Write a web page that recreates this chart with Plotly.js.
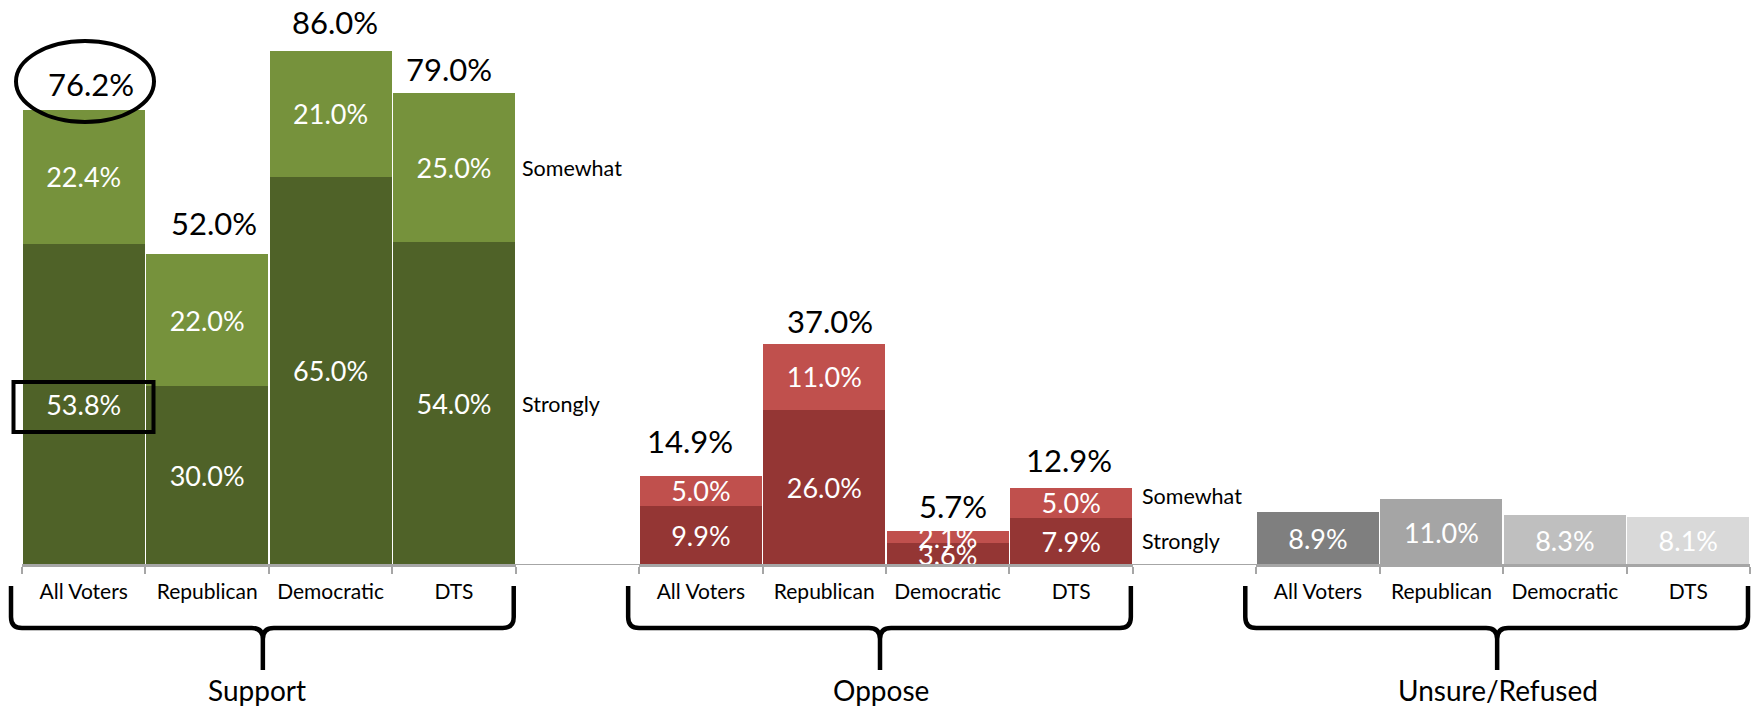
<!DOCTYPE html>
<html><head><meta charset="utf-8">
<script src="https://cdn.plot.ly/plotly-3.0.1.min.js"></script>
<style>html,body{margin:0;padding:0;background:#fff}</style>
</head><body><div id="chart" style="width:1758px;height:710px"></div>
<script>
// ---- data ----
const categories = ['All Voters', 'Republican', 'Democratic', 'DTS'];
const groups = ['Support', 'Oppose', 'Unsure/Refused'];
const segmentLabels = ['Strongly', 'Somewhat'];
const supportStrongly = [53.8, 30.0, 65.0, 54.0];
const supportSomewhat = [22.4, 22.0, 21.0, 25.0];
const supportTotal = [76.2, 52.0, 86.0, 79.0];
const opposeStrongly = [9.9, 26.0, 3.6, 7.9];
const opposeSomewhat = [5.0, 11.0, 2.1, 5.0];
const opposeTotal = [14.9, 37.0, 5.7, 12.9];
const unsure = [8.9, 11.0, 8.3, 8.1];

// ---- styling / label nudges (pixels) ----
const supportTotalNudge = [[7, -2], [7, 3], [4, 1], [-5, -4]];
const opposeTotalNudge = [[-11, 7], [6, -5], [5, -3], [-2, 0]];
const groupLabelShift = [-12, -5, -5];

const W = 1758, H = 710, MT = 20, MB = 145;
const plotH = H - MT - MB;
const base = H - MB;           // pixel y of baseline
const ppu = 5.975;             // px per percentage point
const yMax = plotH / ppu;
const slot = (1750 - 22) / 14;
const axStart = [22, 22 + 5 * slot, 22 + 10 * slot];
const axEnd = axStart.map(s => s + 4 * slot);

const fmt = v => v.toFixed(1) + '%';
const FONT = 'Lato, "Open Sans", sans-serif';
const insideFont = {color: '#ffffff', size: 27, family: FONT};

function barTrace(vals, axis, color, name) {
  return {
    type: 'bar', x: categories, y: vals, xaxis: axis, yaxis: 'y', name: name,
    marker: {color: color, line: {width: 0}},
    text: vals.map(fmt), textposition: 'inside', insidetextanchor: 'middle',
    constraintext: 'none', textfont: insideFont, cliponaxis: false,
    hoverinfo: 'skip', showlegend: false
  };
}

const data = [
  barTrace(supportStrongly, 'x', '#4F6228', 'Support Strongly'),
  barTrace(supportSomewhat, 'x', '#76923C', 'Support Somewhat'),
  barTrace(opposeStrongly, 'x2', '#943634', 'Oppose Strongly'),
  barTrace(opposeSomewhat, 'x2', '#C0504D', 'Oppose Somewhat'),
  barTrace(unsure, 'x3', ['#7F7F7F', '#A5A5A5', '#BFBFBF', '#D9D9D9'], 'Unsure/Refused')
];

function xAxis(i) {
  return {
    domain: [axStart[i] / W, axEnd[i] / W], anchor: 'y',
    type: 'category', categoryorder: 'array', categoryarray: categories,
    showline: true, linecolor: '#A6A6A6', linewidth: 2,
    ticks: 'outside', tickson: 'boundaries', ticklen: 7, tickwidth: 2, tickcolor: '#A6A6A6',
    tickfont: {size: 21, color: '#000', family: FONT}, ticklabelstandoff: 7,
    showgrid: false, zeroline: false, fixedrange: true, automargin: false
  };
}

// pixel -> paper
const px = x => x / W;
const py = y => (base - y) / plotH;
const P = (x, y) => px(x).toFixed(5) + ',' + py(y).toFixed(5);

function bracePath(L, R, T) {
  const yt = 586, yh = 628, yb = 670, r = 11;
  return `M ${P(L, yt)} L ${P(L, yh - r)} Q ${P(L, yh)} ${P(L + r, yh)} L ${P(T - r, yh)} Q ${P(T, yh)} ${P(T, yh + r)} L ${P(T, yb)} ` +
         `M ${P(T, yh + r)} Q ${P(T, yh)} ${P(T + r, yh)} L ${P(R - r, yh)} Q ${P(R, yh)} ${P(R, yh - r)} L ${P(R, yt)}`;
}

const shapes = [
  {type: 'line', xref: 'paper', yref: 'y', x0: px(axStart[0]), x1: px(axEnd[2]), y0: 0, y1: 0,
   line: {color: '#A6A6A6', width: 2}, layer: 'above'},
  {type: 'circle', xref: 'paper', yref: 'paper', x0: px(16), x1: px(154), y0: py(122), y1: py(41),
   line: {color: '#000', width: 4}},
  {type: 'rect', xref: 'paper', yref: 'paper', x0: px(13.5), x1: px(153.5), y0: py(432), y1: py(382),
   line: {color: '#000', width: 4}}
];
for (let i = 0; i < 3; i++) {
  const L = axStart[i] - 11, R = axEnd[i] - 2, T = (axStart[i] + axEnd[i]) / 2 - 6;
  shapes.push({type: 'path', xref: 'paper', yref: 'paper', path: bracePath(L, R, T),
               line: {color: '#000', width: 4.5}});
}

const annotations = [];
const totalFont = {size: 31, color: '#000', family: FONT};
categories.forEach((c, i) => {
  annotations.push({xref: 'x', yref: 'y', x: c, y: supportTotal[i], text: fmt(supportTotal[i]),
    showarrow: false, yanchor: 'bottom', xshift: supportTotalNudge[i][0], yshift: 7 + supportTotalNudge[i][1], font: totalFont});
  annotations.push({xref: 'x2', yref: 'y', x: c, y: opposeTotal[i], text: fmt(opposeTotal[i]),
    showarrow: false, yanchor: 'bottom', xshift: opposeTotalNudge[i][0], yshift: 7 + opposeTotalNudge[i][1], font: totalFont});
});
const sideFont = {size: 21.5, color: '#000', family: FONT};
const last = categories.length - 1;
[['x domain', supportStrongly, supportSomewhat, 4, 0], ['x2 domain', opposeStrongly, opposeSomewhat, 7, 7]].forEach(([ref, st, sw, xs, ys]) => {
  annotations.push({xref: ref, yref: 'y', x: 1, xanchor: 'left', xshift: xs, y: st[last] / 2,
    text: segmentLabels[0], showarrow: false, font: sideFont});
  annotations.push({xref: ref, yref: 'y', x: 1, xanchor: 'left', xshift: xs, yshift: ys, y: st[last] + sw[last] / 2,
    text: segmentLabels[1], showarrow: false, font: sideFont});
});
['x domain', 'x2 domain', 'x3 domain'].forEach((ref, i) => {
  annotations.push({xref: ref, yref: 'paper', x: 0.5, y: py(690), xshift: groupLabelShift[i],
    yanchor: 'middle', text: groups[i], showarrow: false,
    font: {size: 28, color: '#000', family: FONT}});
});

const layout = {
  width: W, height: H, margin: {l: 0, r: 0, t: MT, b: MB, pad: 0},
  paper_bgcolor: '#fff', plot_bgcolor: '#fff',
  font: {family: FONT, color: '#000'},
  barmode: 'stack', bargap: 0.012, showlegend: false,
  xaxis: xAxis(0), xaxis2: xAxis(1), xaxis3: xAxis(2),
  yaxis: {range: [0, yMax], visible: false, fixedrange: true},
  shapes: shapes, annotations: annotations
};

Plotly.newPlot('chart', data, layout, {displayModeBar: false, staticPlot: true});
</script>
</body></html>
